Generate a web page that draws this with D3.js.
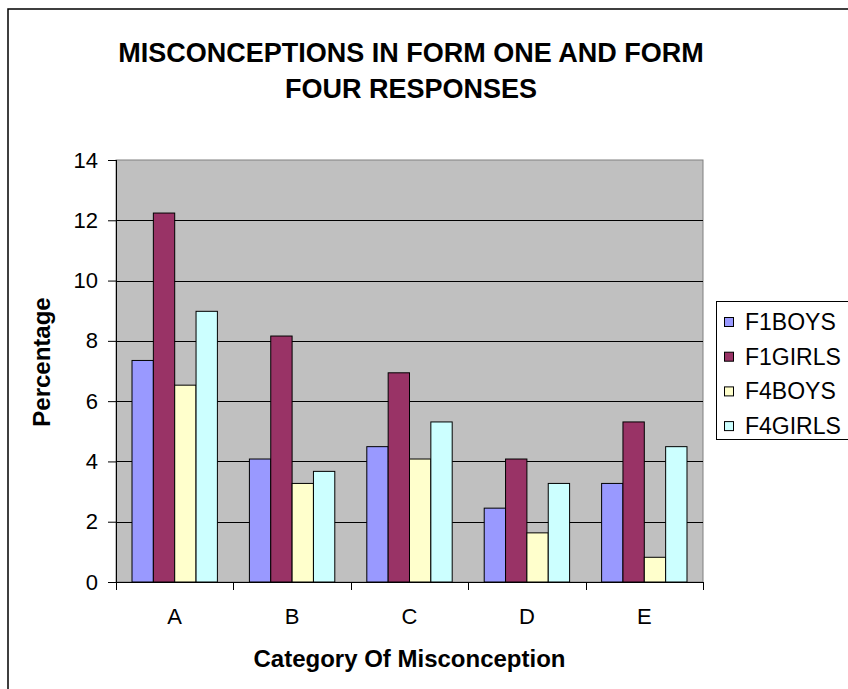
<html>
<head>
<title>Misconceptions in Form One and Form Four</title>
<script type="text/javascript" src="https://d3js.org/d3.v7.min.js"></script>
<style>
  body { margin: 0; background: #fff; }
  text { font-family: Arial, "Liberation Sans", sans-serif; }
</style>
</head>
<body>
<script type="text/javascript">
  var width = 848;
  var height = 689;

  var categories = ["A", "B", "C", "D", "E"];
  var seriesNames = ["F1BOYS", "F1GIRLS", "F4BOYS", "F4GIRLS"];
  var seriesColors = ["#9999FF", "#993366", "#FFFFCC", "#CCFFFF"];
  var f1Boys  = [7.35, 4.08, 4.49, 2.45, 3.27];
  var f1Girls = [12.24, 8.16, 6.94, 4.08, 5.31];
  var f4Boys  = [6.53, 3.27, 4.08, 1.63, 0.82];
  var f4Girls = [8.98, 3.67, 5.31, 3.27, 4.49];
  var yTicks = [0, 2, 4, 6, 8, 10, 12, 14];

  var seriesValues = [f1Boys, f1Girls, f4Boys, f4Girls];

  var plotLeft = 116, plotRight = 703, plotTop = 160, plotBottom = 582;

  var svg = d3.select("body")
              .append("svg")
              .attr("width", width)
              .attr("height", height);

  // outer chart frame (runs off the right and bottom edges)
  svg.append("rect")
     .attr("x", 8).attr("y", 9)
     .attr("width", 900).attr("height", 760)
     .attr("fill", "#fff")
     .attr("stroke", "#000")
     .attr("stroke-width", 1.5);

  var x0 = d3.scaleBand()
             .domain(categories)
             .range([plotLeft, plotRight]);
  var bw = x0.bandwidth();
  var x1 = d3.scaleBand()
             .domain(seriesNames)
             .range([bw * 0.75 / 5.5, bw * 4.75 / 5.5]);
  var y = d3.scaleLinear()
            .domain([0, 14])
            .range([plotBottom, plotTop]);

  // plot background
  svg.append("rect")
     .attr("x", plotLeft).attr("y", plotTop)
     .attr("width", plotRight - plotLeft).attr("height", plotBottom - plotTop)
     .attr("fill", "#C0C0C0")
     .attr("stroke", "#808080")
     .attr("stroke-width", 1);

  // gridlines
  svg.append("g")
     .selectAll("line")
     .data(yTicks.filter(function(d){ return d > 0 && d < 14; }))
     .enter().append("line")
     .attr("x1", plotLeft).attr("x2", plotRight)
     .attr("y1", function(d){ return Math.round(y(d)) + 0.5; })
     .attr("y2", function(d){ return Math.round(y(d)) + 0.5; })
     .attr("stroke", "#000")
     .attr("stroke-width", 1);

  // bars
  var rows = categories.map(function(c, i){
    return seriesNames.map(function(s, j){
      return { cat: c, series: s, value: seriesValues[j][i], color: seriesColors[j] };
    });
  });

  svg.append("g")
     .selectAll("g")
     .data(rows)
     .enter().append("g")
     .attr("transform", function(d){ return "translate(" + x0(d[0].cat) + ",0)"; })
     .selectAll("rect")
     .data(function(d){ return d; })
     .enter().append("rect")
     .attr("x", function(d){ return x1(d.series); })
     .attr("y", function(d){ return y(d.value); })
     .attr("width", x1.bandwidth())
     .attr("height", function(d){ return plotBottom - y(d.value); })
     .attr("fill", function(d){ return d.color; })
     .attr("stroke", "#000")
     .attr("stroke-width", 1);

  // y axis
  var yAxis = d3.axisLeft(y)
                .tickValues(yTicks)
                .tickSize(8)
                .tickPadding(10);
  var gy = svg.append("g")
              .attr("transform", "translate(" + plotLeft + ",0)")
              .call(yAxis);
  gy.select(".domain").attr("stroke", "#000").attr("d", "M0.5," + plotTop + "V" + plotBottom);
  gy.selectAll("text").attr("font-size", 22).attr("fill", "#000");

  // x axis: ticks at category boundaries
  var xAxis = d3.axisBottom(x0).tickSize(0).tickPadding(26);
  var gx = svg.append("g")
              .attr("transform", "translate(0," + plotBottom + ")")
              .call(xAxis);
  gx.select(".domain").attr("stroke", "#000").attr("d", "M" + plotLeft + ",0.5H" + plotRight);
  gx.selectAll("text").attr("font-size", 22).attr("fill", "#000");
  gx.selectAll(".bound")
    .data(categories.concat(["end"]))
    .enter().append("line")
    .attr("class", "bound")
    .attr("x1", function(d, i){ return Math.round(plotLeft + i * bw) + 0.5; })
    .attr("x2", function(d, i){ return Math.round(plotLeft + i * bw) + 0.5; })
    .attr("y1", 0).attr("y2", 8)
    .attr("stroke", "#000");

  // titles
  var title = svg.append("text")
                 .attr("text-anchor", "middle")
                 .attr("font-size", 27)
                 .attr("font-weight", "bold");
  title.append("tspan").attr("x", 411).attr("y", 62).text("MISCONCEPTIONS IN FORM ONE AND FORM");
  title.append("tspan").attr("x", 411).attr("y", 98).text("FOUR RESPONSES");

  svg.append("text")
     .attr("x", (plotLeft + plotRight) / 2).attr("y", 667)
     .attr("text-anchor", "middle")
     .attr("font-size", 24)
     .attr("font-weight", "bold")
     .text("Category Of Misconception");

  svg.append("text")
     .attr("transform", "translate(50,362) rotate(-90)")
     .attr("text-anchor", "middle")
     .attr("font-size", 24)
     .attr("font-weight", "bold")
     .text("Percentage");

  // legend
  var legend = svg.append("g");
  legend.append("rect")
        .attr("x", 716.5).attr("y", 301.5)
        .attr("width", 200).attr("height", 138)
        .attr("fill", "#fff")
        .attr("stroke", "#000");
  var items = legend.selectAll(".item")
                    .data(seriesNames)
                    .enter().append("g")
                    .attr("class", "item")
                    .attr("transform", function(d, i){ return "translate(0," + (322 + i * 34.7) + ")"; });
  items.append("rect")
       .attr("x", 724.5).attr("y", -4.5)
       .attr("width", 9).attr("height", 9)
       .attr("fill", function(d, i){ return seriesColors[i]; })
       .attr("stroke", "#000");
  items.append("text")
       .attr("x", 745).attr("y", 8)
       .attr("font-size", 23)
       .text(function(d){ return d; });
</script>
</body>
</html>
